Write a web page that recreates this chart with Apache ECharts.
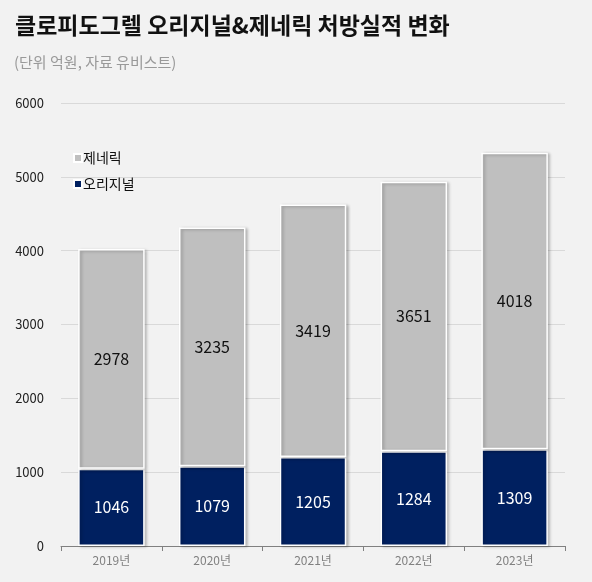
<!DOCTYPE html>
<html>
<head>
<meta charset="utf-8">
<script src="https://cdn.jsdelivr.net/npm/echarts@6/dist/echarts.min.js"></script>
<style>
  html, body { margin: 0; padding: 0; background: #f2f2f2; }
  #main { width: 592px; height: 582px; }
</style>
</head>
<body>
<div id="main"></div>
<script>
// 클로피도그렐 처방실적 (단위 억원)
var years = ['2019년', '2020년', '2021년', '2022년', '2023년']
var original = [1046, 1079, 1205, 1284, 1309]
var generic = [2978, 3235, 3419, 3651, 4018]
var yTicks = [0, 1000, 2000, 3000, 4000, 5000, 6000]

var font = '"Noto Sans CJK KR", "Noto Sans", sans-serif'
var myChart = echarts.init(document.getElementById('main'))

var barShadow = {
  borderColor: '#ffffff',
  borderWidth: 1.5,
  shadowColor: 'rgba(0,0,0,0.25)',
  shadowBlur: 3,
  shadowOffsetX: 2,
  shadowOffsetY: 1
}

myChart.setOption({
  backgroundColor: '#f2f2f2',
  textStyle: { fontFamily: font },
  title: [
    {
      text: '클로피도그렐 오리지널&제네릭 처방실적 변화',
      left: 10, top: 9,
      textStyle: { fontSize: 23, fontWeight: 'bold', color: '#111', fontFamily: font }
    },
    {
      text: '(단위 억원, 자료 유비스트)',
      left: 9, top: 50,
      textStyle: { fontSize: 15, fontWeight: 'normal', color: '#999', fontFamily: font }
    }
  ],
  legend: {
    orient: 'vertical',
    left: 68, top: 146,
    itemWidth: 8, itemHeight: 8,
    itemGap: 12,
    icon: 'rect',
    data: ['제네릭', '오리지널'],
    textStyle: { fontSize: 14, color: '#111', padding: [0, 0, 0, -4] }
  },
  grid: { left: 61, right: 27, top: 103, bottom: 36 },
  xAxis: {
    type: 'category',
    data: years,
    axisLine: { lineStyle: { color: '#808080', width: 1 } },
    axisTick: { show: true, length: 5, lineStyle: { color: '#808080' } },
    axisLabel: { color: '#808080', fontSize: 12, margin: 8 }
  },
  yAxis: {
    type: 'value',
    min: yTicks[0],
    max: yTicks[yTicks.length - 1],
    interval: 1000,
    axisLine: { show: false },
    axisTick: { show: false },
    splitLine: { lineStyle: { color: '#d9d9d9' } },
    axisLabel: { color: '#222', fontSize: 13, margin: 17, formatter: function (v) { return String(v) } }
  },
  series: [
    {
      name: '오리지널',
      type: 'bar',
      stack: 'total',
      data: original,
      barWidth: '66%',
      color: '#002060',
      itemStyle: barShadow,
      label: { show: true, position: 'inside', color: '#fff', fontSize: 16 }
    },
    {
      name: '제네릭',
      type: 'bar',
      stack: 'total',
      data: generic,
      barWidth: '66%',
      color: '#bfbfbf',
      itemStyle: barShadow,
      label: { show: true, position: 'inside', color: '#111', fontSize: 16 }
    }
  ]
})
</script>
</body>
</html>
